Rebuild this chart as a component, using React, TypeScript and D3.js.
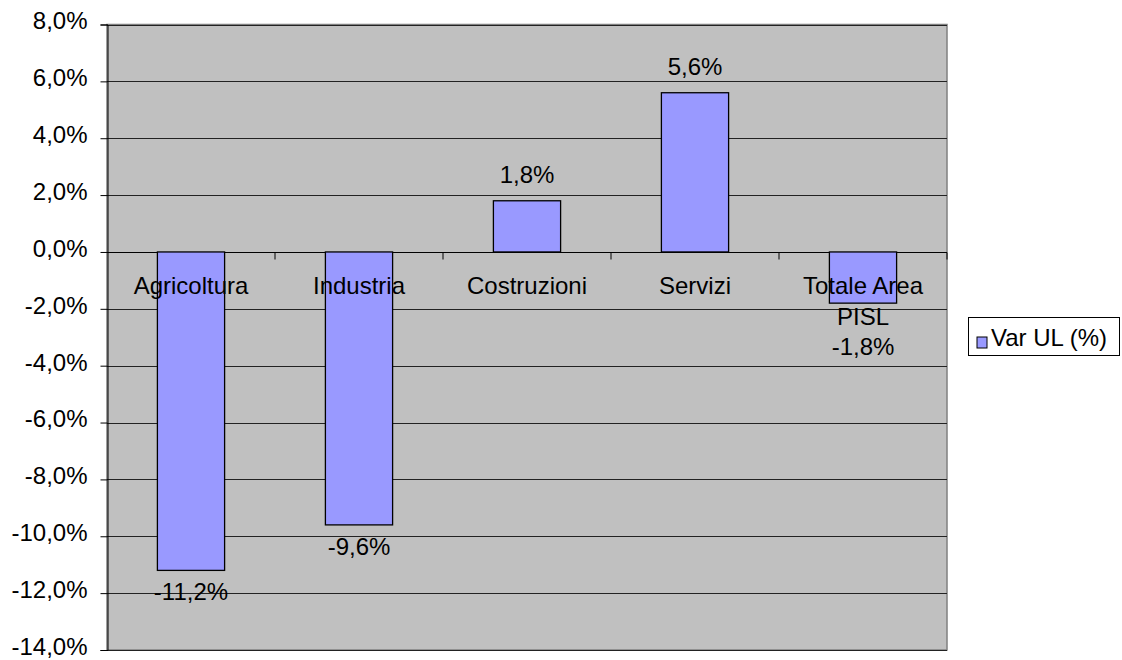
import { useEffect, useRef } from "react";
import * as d3 from "d3";

// categories (line breaks where the original label wraps)
const categories = ["Agricoltura", "Industria", "Costruzioni", "Servizi", "Totale Area\nPISL"];
// Var UL (%)
const varUL = [-11.2, -9.6, 1.8, 5.6, -1.8];
const yTicks = [-14, -12, -10, -8, -6, -4, -2, 0, 2, 4, 6, 8];
const seriesName = "Var UL (%)";

const fmt = (v: number) => v.toFixed(1).replace(".", ",") + "%";

export default function App() {
  const ref = useRef<SVGSVGElement>(null);

  useEffect(() => {
    const svg = d3.select(ref.current);
    svg.selectAll("*").remove();

    const font = "'Liberation Sans', Arial, sans-serif";
    const left = 107, right = 947, top = 24.5, bottom = 650;

    const x = d3.scaleBand().domain(categories).range([left, right]).paddingInner(0.6).paddingOuter(0.3);
    const xCat = d3.scaleBand().domain(categories).range([left, right]);
    const y = d3.scaleLinear().domain([-14, 8]).range([bottom, top]);

    // plot area
    svg.append("rect")
      .attr("x", left).attr("y", top)
      .attr("width", right - left).attr("height", bottom - top)
      .attr("fill", "#c0c0c0")
      .attr("stroke", "#808080").attr("stroke-width", 1.5);

    // gridlines
    svg.append("g")
      .selectAll("line")
      .data(yTicks)
      .join("line")
      .attr("x1", left).attr("x2", right)
      .attr("y1", (d) => Math.round(y(d)) + 0.5).attr("y2", (d) => Math.round(y(d)) + 0.5)
      .attr("stroke", "#222").attr("stroke-width", 1);

    // y axis
    const yAxis = svg.append("g")
      .attr("transform", `translate(${left + 0.5},0)`)
      .call(d3.axisLeft(y).tickValues(yTicks).tickSize(7).tickPadding(13).tickFormat((d) => fmt(d as number)));
    yAxis.select(".domain").attr("stroke", "#000");
    yAxis.selectAll(".tick line").attr("stroke", "#000");
    yAxis.selectAll("text")
      .attr("font-family", font).attr("font-size", 24).attr("fill", "#000")
      .attr("dy", "0.18em");

    // category ticks along the zero line
    const zeroY = Math.round(y(0)) + 0.5;
    svg.append("line")
      .attr("x1", left).attr("x2", right)
      .attr("y1", zeroY).attr("y2", zeroY)
      .attr("stroke", "#000");
    svg.append("g")
      .selectAll("line")
      .data(categories.slice(1).concat(["__end"]))
      .join("line")
      .attr("x1", (d, i) => left + xCat.step() * (i + 1))
      .attr("x2", (d, i) => left + xCat.step() * (i + 1))
      .attr("y1", zeroY).attr("y2", zeroY + 7)
      .attr("stroke", "#000");

    // bars
    svg.append("g")
      .selectAll("rect")
      .data(varUL)
      .join("rect")
      .attr("x", (d, i) => x(categories[i])!)
      .attr("width", x.bandwidth())
      .attr("y", (d) => y(Math.max(0, d)))
      .attr("height", (d) => Math.abs(y(d) - y(0)))
      .attr("fill", "#9999ff")
      .attr("stroke", "#000").attr("stroke-width", 1.3);

    // category labels
    const catBaseline = y(0) + 42;
    const lineH = 31;
    categories.forEach((c, i) => {
      const cx = xCat(c)! + xCat.bandwidth() / 2;
      c.split("\n").forEach((line, j) => {
        svg.append("text")
          .attr("x", cx).attr("y", catBaseline + j * lineH)
          .attr("text-anchor", "middle")
          .attr("font-family", font).attr("font-size", 24).attr("fill", "#000")
          .text(line);
      });
    });

    // data labels
    varUL.forEach((v, i) => {
      const c = categories[i];
      const cx = xCat(c)! + xCat.bandwidth() / 2;
      const nLines = c.split("\n").length;
      let ly;
      if (v >= 0) ly = y(v) - 18;
      else ly = Math.max(y(v) + 30, catBaseline + (nLines - 1) * lineH + 30);
      svg.append("text")
        .attr("x", cx).attr("y", ly)
        .attr("text-anchor", "middle")
        .attr("font-family", font).attr("font-size", 24).attr("fill", "#000")
        .text(fmt(v));
    });

    // legend
    const lg = svg.append("g");
    lg.append("rect")
      .attr("x", 968.5).attr("y", 317.5).attr("width", 151).attr("height", 38)
      .attr("fill", "#fff").attr("stroke", "#000");
    lg.append("rect")
      .attr("x", 977).attr("y", 337).attr("width", 10).attr("height", 11)
      .attr("fill", "#9999ff").attr("stroke", "#000");
    lg.append("text")
      .attr("x", 991).attr("y", 346)
      .attr("font-family", font).attr("font-size", 24).attr("fill", "#000")
      .text(seriesName);
  }, []);

  return (
    <svg
      ref={ref}
      width={1122}
      height={660}
      style={{ position: "absolute", left: 0, top: 0, background: "#fff" }}
    />
  );
}
